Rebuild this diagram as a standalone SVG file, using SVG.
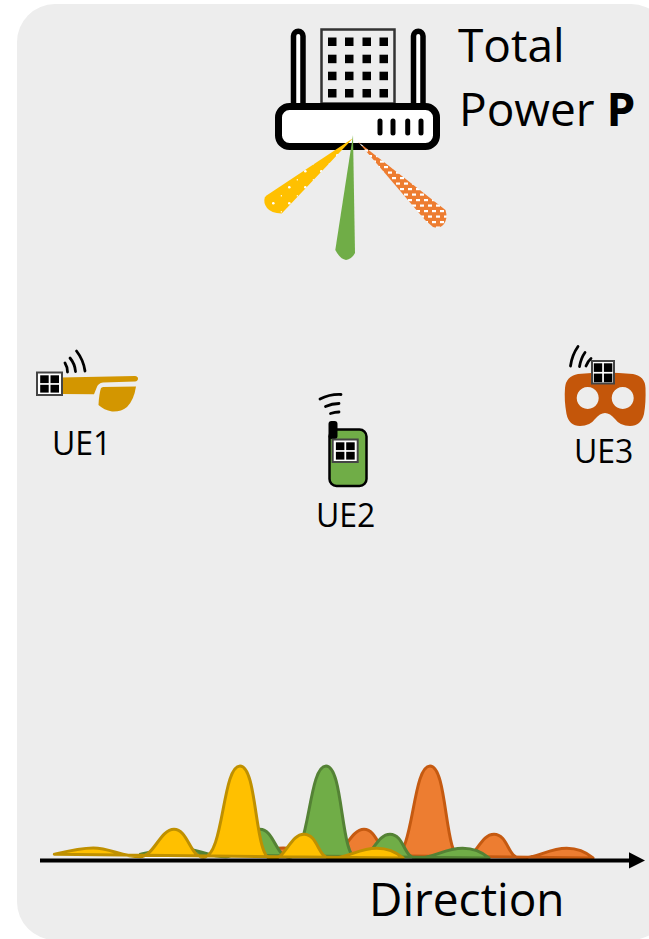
<svg xmlns="http://www.w3.org/2000/svg" width="649" height="939" viewBox="0 0 649 939">
<style>
text{font-family:"Open Sans","Noto Sans","Liberation Sans",sans-serif;fill:#000}
.big{font-size:46px}.lab{font-size:32px}
.arc{fill:none;stroke:#000;stroke-width:2.800;stroke-linecap:round}
.ant{fill:#fff;stroke:#000;stroke-width:5.500}
.y{fill:#FFC000;stroke:#BF9000}.g{fill:#70AD47;stroke:#548235}.o{fill:#ED7D31;stroke:#C55A11}
.curve{stroke-width:3;stroke-linejoin:round}
</style>
<defs>
<pattern id="dots" x="0" y="0" width="16" height="16" patternUnits="userSpaceOnUse">
<rect width="16" height="16" fill="#FFC000"/><circle cx="1.300" cy="11.300" r="1.300" fill="#fff"/><rect x="8.800" y="3" width="1" height="1.500" fill="#fff"/>
</pattern>
<pattern id="bricks" width="8" height="11" patternUnits="userSpaceOnUse">
<rect width="8" height="11" fill="#ED7D31"/><rect x="0" y="1" width="4" height="2.200" fill="#fff"/><rect x="4" y="6.500" width="4" height="2.200" fill="#fff"/>
</pattern>
<g id="chip">
<rect x="0" y="0" width="25" height="22.500" fill="#fff" stroke="#444" stroke-width="2"/>
<rect x="3.200" y="2.800" width="8.500" height="7.800"/><rect x="13.500" y="2.800" width="8.500" height="7.800"/>
<rect x="3.200" y="12.300" width="8.500" height="7.800"/><rect x="13.500" y="12.300" width="8.500" height="7.800"/>
</g>
<path id="curve" d="M54.300 854.300C68 851 80 848 93.300 848C110 848 122 856.700 140 856.700C154 856.700 160 829.300 174 829.300C188 829.300 190 857.300 203.300 857.300C224 857.300 222 766 240 766C258 766 254 859.300 271.700 859.300C286 859.300 290 834.300 304 834.300C318 834.300 318 858.300 330 858.300C348 858.300 358 848.300 376.700 848.300C388 848.300 396 852 403 858Z"/>
</defs>
<rect id="panel" x="17" y="4" width="652" height="936" rx="38" fill="#EDEDED"/>
<g id="router">
<path class="ant" d="M293.500 104V36a4.750 4.750 0 0 1 9.500 0V104"/>
<path class="ant" d="M413.500 104V36a4.750 4.750 0 0 1 9.500 0V104"/>
<rect x="321.500" y="29.500" width="73" height="74" fill="#EDEDED" stroke="#333" stroke-width="2.500"/>
<g id="windows" fill="#000">
<rect x="328" y="37.500" width="8.500" height="8.500"/><rect x="345" y="37.500" width="8.500" height="8.500"/><rect x="362.500" y="37.500" width="8.500" height="8.500"/><rect x="379.500" y="37.500" width="8.500" height="8.500"/>
<rect x="328" y="54.700" width="8.500" height="8.500"/><rect x="345" y="54.700" width="8.500" height="8.500"/><rect x="362.500" y="54.700" width="8.500" height="8.500"/><rect x="379.500" y="54.700" width="8.500" height="8.500"/>
<rect x="328" y="71.700" width="8.500" height="8.500"/><rect x="345" y="71.700" width="8.500" height="8.500"/><rect x="362.500" y="71.700" width="8.500" height="8.500"/><rect x="379.500" y="71.700" width="8.500" height="8.500"/>
<rect x="328" y="89" width="8.500" height="8.500"/><rect x="345" y="89" width="8.500" height="8.500"/><rect x="362.500" y="89" width="8.500" height="8.500"/><rect x="379.500" y="89" width="8.500" height="8.500"/>
</g>
<rect x="278.500" y="106.500" width="158" height="40" rx="11" fill="#fff" stroke="#000" stroke-width="7"/>
<path d="M380 121V133M393 121V133M407.700 121V133M421 121V133" stroke="#000" stroke-width="5" stroke-linecap="round"/>
</g>
<g id="beams">
<path d="M353.300 138L265 196.500Q263 203 267 208Q271 213 281.700 213.500Z" fill="url(#dots)"/>
<path d="M353 135L335.300 250Q340 259 346 260Q352 259 355 253Z" fill="#70AD47"/>
<path d="M358 141.700L425 220L433 227Q440 229 444 224Q448 218 445.500 210Z" fill="url(#bricks)"/>
</g>
<g id="total-power">
<text class="big" x="458" y="62">Total</text>
<text class="big" x="459" y="126">Power <tspan font-weight="700">P</tspan></text>
</g>
<g id="UE1">
<path fill="#D39600" d="M61 377.500L135 376Q138 376.500 138 378.500Q138 381 135 381.500L103 382.500Q98 383 96.500 388L94 394.300L61 394Z"/>
<path fill="#D39600" d="M103 387L136 386.500Q134 400 127 407Q121 412 112 411.500Q104 410 98.500 405Q99 394 101 388Z"/>
<path class="arc" d="M65 363Q67.500 367 67.500 372M70 358Q75 364 75.500 371.500M76.500 351Q83.500 360 85 371"/>
<use href="#chip" x="37" y="372.500"/>
<text class="lab" x="52" y="455">UE1</text>
</g>
<g id="UE2">
<rect x="329.500" y="429.500" width="37" height="56.500" rx="7" fill="#70AD47" stroke="#000" stroke-width="2.500"/>
<rect x="328.500" y="421" width="9" height="18" rx="3" fill="#000"/>
<use href="#chip" x="332.700" y="439.500"/>
<path class="arc" d="M320 399Q330 394 341 394.500M325.500 406.500Q332 403.500 339 403.500M330.500 413.500Q335 412 339 412"/>
<text class="lab" x="316" y="527">UE2</text>
</g>
<g id="UE3">
<path fill="#C4560A" fill-rule="evenodd" d="M578 374Q605 371 633 374Q645 376 645.500 388Q646 403 644 414Q641 426 630 426Q620 426 615 419Q610 413 605 413Q600 413 595 419Q590 426 580 426Q569 426 566.500 414Q564 400 565 388Q566 376 578 374ZM587.700 387a11 11 0 1 0 .01 0ZM622.700 387a11 11 0 1 0 .01 0Z"/>
<path class="arc" d="M570.500 366Q572 355 578 346.500M579.500 366.500Q581 358 585 352.500M586 366Q588 361 591 358.500"/>
<rect x="592" y="361" width="22" height="22.500" fill="#fff" stroke="#444" stroke-width="2"/>
<rect x="593.800" y="363.300" width="8.400" height="8.600"/><rect x="603.900" y="363.300" width="8.400" height="8.600"/>
<rect x="593.800" y="373.600" width="8.400" height="8.600"/><rect x="603.900" y="373.600" width="8.400" height="8.600"/>
<text class="lab" x="574" y="463">UE3</text>
</g>
<g id="spectrum">
<line x1="145" y1="857.500" x2="520" y2="857.500" stroke="#fff" stroke-width="1.500"/>
<use href="#curve" class="curve o" transform="translate(190 0)"/>
<use href="#curve" class="curve g" transform="translate(86 0)"/>
<use href="#curve" class="curve y"/>
</g>
<g id="connectors">
<line x1="40" y1="860.400" x2="632" y2="860.400" stroke="#000" stroke-width="4"/>
<path d="M629 852.300L645 860.400L629 868.500Z" fill="#000"/>
</g>
<text id="direction" class="big" x="369" y="916">Direction</text>
</svg>
